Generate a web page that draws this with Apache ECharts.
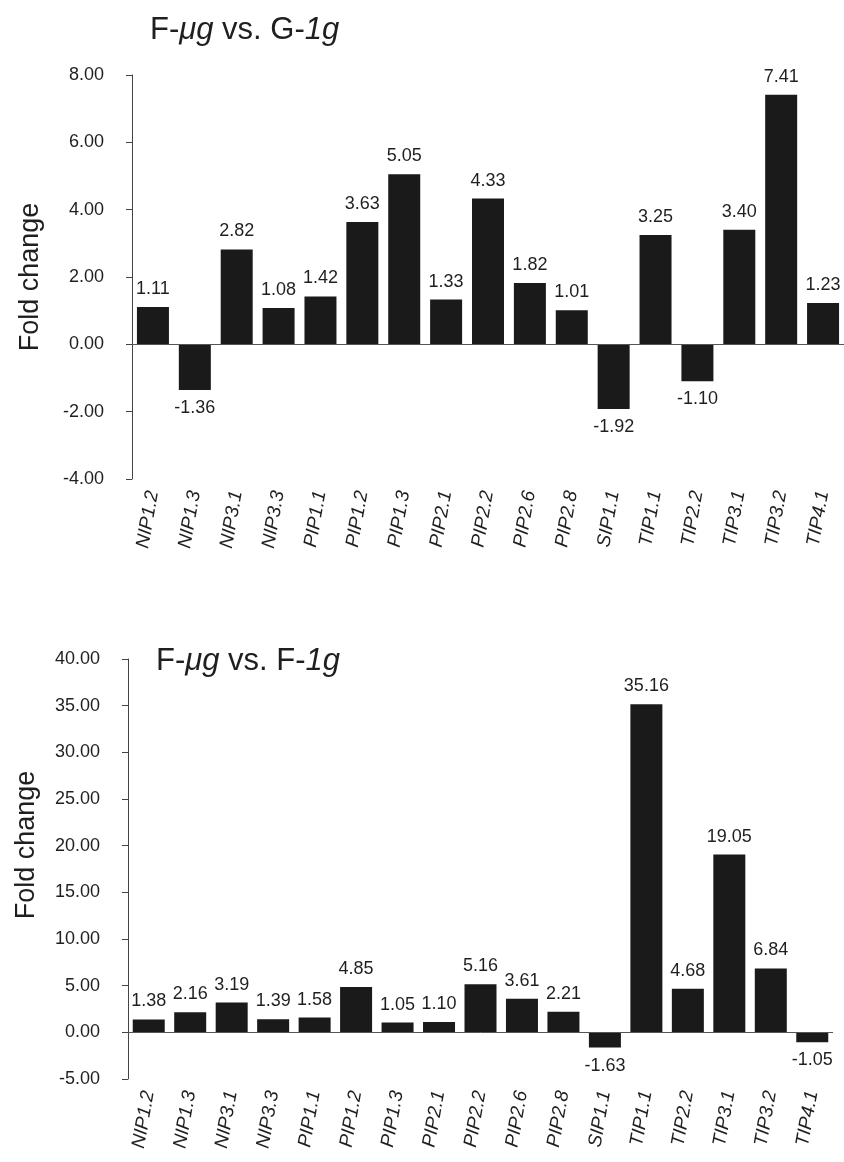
<!DOCTYPE html>
<html>
<head>
<meta charset="utf-8">
<script src="https://cdn.jsdelivr.net/npm/echarts@6/dist/echarts.min.js"></script>
<style>
    html, body { margin: 0; padding: 0; background: #fff; }
    #container { width: 844px; height: 1162px; }
</style>
</head>
<body>
<div id="container"></div>
<script>
// 基因名称
const genes = ['NIP1.2', 'NIP1.3', 'NIP3.1', 'NIP3.3', 'PIP1.1', 'PIP1.2', 'PIP1.3', 'PIP2.1', 'PIP2.2',
    'PIP2.6', 'PIP2.8', 'SIP1.1', 'TIP1.1', 'TIP2.2', 'TIP3.1', 'TIP3.2', 'TIP4.1'];
// F-μg vs. G-1g
const foldG = [1.11, -1.36, 2.82, 1.08, 1.42, 3.63, 5.05, 1.33, 4.33, 1.82, 1.01, -1.92, 3.25, -1.10, 3.40, 7.41, 1.23];
// F-μg vs. F-1g
const foldF = [1.38, 2.16, 3.19, 1.39, 1.58, 4.85, 1.05, 1.10, 5.16, 3.61, 2.21, -1.63, 35.16, 4.68, 19.05, 6.84, -1.05];
// 坐标范围
const rangeG = [-4, 8, 2];
const rangeF = [-5, 40, 5];

const FONT = '"Liberation Sans", Arial, sans-serif';
const TXT = '#1f1f1f';
const BAR = '#1a1a1a';

// 数据加标签位置
function buildData(values) {
    return values.map(function (v) {
        return {
            value: v,
            label: { position: v < 0 ? 'bottom' : 'top' }
        };
    });
}

function xAxisOf(gridIndex) {
    return {
        type: 'category',
        gridIndex: gridIndex,
        data: genes,
        axisLine: { show: false, onZero: false },
        axisTick: { show: false },
        axisLabel: {
            interval: 0,
            rotate: 80,
            margin: 12,
            fontFamily: FONT,
            fontStyle: 'italic',
            fontSize: 19,
            color: TXT
        }
    };
}

function yAxisOf(gridIndex, range, pad) {
    return {
        type: 'value',
        gridIndex: gridIndex,
        min: range[0],
        max: range[1],
        interval: range[2],
        splitLine: { show: false },
        axisLine: { show: true, lineStyle: { color: '#444', width: 1 } },
        axisTick: { show: true, inside: false, length: 6, lineStyle: { color: '#444' } },
        axisLabel: {
            margin: 28,
            fontFamily: FONT,
            fontSize: 18,
            color: TXT,
            formatter: function (v) { return v.toFixed(2); }
        },
        name: 'Fold change',
        nameLocation: 'middle',
        nameGap: 88,
        nameTextStyle: {
            fontFamily: FONT,
            fontSize: 27,
            color: TXT,
            padding: pad
        }
    };
}

function seriesOf(idx, values) {
    return {
        type: 'bar',
        xAxisIndex: idx,
        yAxisIndex: idx,
        data: buildData(values),
        barWidth: 32,
        itemStyle: { color: BAR },
        label: {
            show: true,
            distance: 9,
            fontFamily: FONT,
            fontSize: 18,
            color: TXT,
            formatter: function (p) { return p.value.toFixed(2); }
        },
        markLine: {
            silent: true,
            symbol: 'none',
            label: { show: false },
            lineStyle: { color: '#555', width: 1, type: 'solid' },
            data: [{ yAxis: 0 }]
        }
    };
}

const titleRich = {
    n: { fontFamily: FONT, fontSize: 31, fontWeight: 'normal', color: TXT },
    i: { fontFamily: FONT, fontSize: 31, fontWeight: 'normal', fontStyle: 'italic', color: TXT }
};

let myChart = echarts.init(document.getElementById('container'), null, { renderer: 'canvas' });
let option = {
    backgroundColor: '#fff',
    animation: false,
    title: [{
        text: '{n|F-}{i|μg}{n| vs. G-}{i|1g}',
        left: 150,
        top: 15,
        padding: 0,
        textStyle: { fontWeight: 'normal', rich: titleRich }
    }, {
        text: '{n|F-}{i|μg}{n| vs. F-}{i|1g}',
        left: 156,
        top: 646,
        padding: 0,
        textStyle: { fontWeight: 'normal', rich: titleRich }
    }],
    grid: [
        { left: 132, top: 75, width: 712, height: 404, containLabel: false },
        { left: 128, top: 659, width: 705, height: 420, containLabel: false }
    ],
    xAxis: [xAxisOf(0), xAxisOf(1)],
    yAxis: [yAxisOf(0, rangeG, 0), yAxisOf(1, rangeF, [0, 0, 0, 48])],
    series: [seriesOf(0, foldG), seriesOf(1, foldF)]
};
myChart.setOption(option, true);
</script>
</body>
</html>
